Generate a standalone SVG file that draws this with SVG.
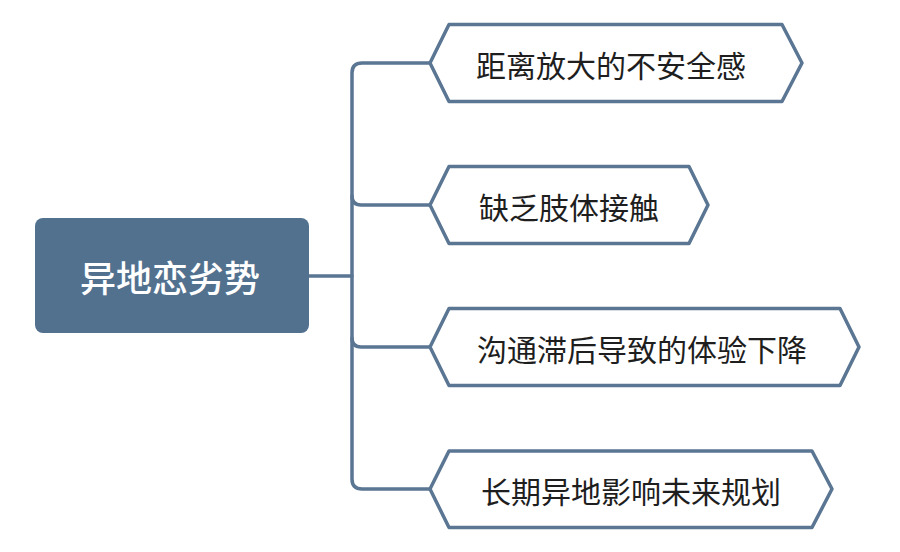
<svg xmlns="http://www.w3.org/2000/svg" width="900" height="552" viewBox="0 0 900 552">
<style>
.conn{fill:none;stroke:#5a7693;stroke-width:3.5;stroke-linecap:round;stroke-linejoin:round}
.node{fill:#ffffff;stroke:#5a7693;stroke-width:3.5;stroke-linejoin:round}
.lbl{font-family:"Noto Sans CJK SC","Noto Sans",sans-serif;font-size:30px;fill:#1e1e1e;text-anchor:middle;dominant-baseline:central}
.root{fill:#52718f}
.rootlbl{font-family:"Noto Sans CJK SC","Noto Sans",sans-serif;font-size:36px;font-weight:500;fill:#ffffff;text-anchor:middle;dominant-baseline:central}
</style>
<rect width="900" height="552" fill="#ffffff"/>
<g id="connectors">
<path class="conn" d="M309,276 L352,276"/>
<path class="conn" d="M430,63 L362,63 Q352,63 352,73 L352,479 Q352,489 362,489 L430,489"/>
<path class="conn" d="M352,196 Q352,205 361,205 L430,205"/>
<path class="conn" d="M352,338 Q352,347 361,347 L430,347"/>
</g>
<g id="root">
<rect class="root" x="35" y="218" width="274" height="115" rx="8"/>
<text class="rootlbl" x="170" y="276">异地恋劣势</text>
</g>
<g id="n1">
<polygon class="node" points="430,63 449,24.5 782,24.5 802,63 782,101.5 449,101.5"/>
<text class="lbl" x="611" y="64">距离放大的不安全感</text>
</g>
<g id="n2">
<polygon class="node" points="430,205 449,166.5 689,166.5 708,205 689,243.5 449,243.5"/>
<text class="lbl" x="569" y="206">缺乏肢体接触</text>
</g>
<g id="n3">
<polygon class="node" points="430,347 449,308.5 840,308.5 859,347 840,385.5 449,385.5"/>
<text class="lbl" x="642" y="348">沟通滞后导致的体验下降</text>
</g>
<g id="n4">
<polygon class="node" points="430,489 449,451 812,451 832,489 812,527.5 449,527.5"/>
<text class="lbl" x="631" y="490">长期异地影响未来规划</text>
</g>
</svg>
